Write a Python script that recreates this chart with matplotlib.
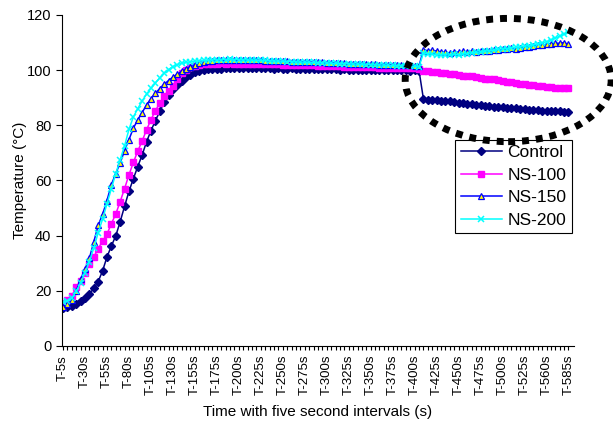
# plot.py
# temperature vs time for control and NS samples

import matplotlib
matplotlib.use("Agg")
import matplotlib.pyplot as plt
from matplotlib.patches import Ellipse

plt.rcParams['font.family'] = ['Liberation Sans', 'DejaVu Sans']

# tick labels shown on the x axis (every 5th reading)
tick_labels = ["T-5s", "T-30s", "T-55s", "T-80s", "T-105s", "T-130s", "T-155s",
               "T-175s", "T-200s", "T-225s", "T-250s", "T-275s", "T-300s",
               "T-325s", "T-350s", "T-375s", "T-400s", "T-425s", "T-450s",
               "T-475s", "T-500s", "T-525s", "T-560s", "T-585s"]

control = [13.8, 14.2, 14.6, 15.3, 16.3, 17.3, 18.9, 20.8, 23.3, 27.2,
           32.2, 36.2, 39.9, 45.0, 50.6, 56.0, 60.6, 65.0, 69.2, 74.0,
           78.0, 81.6, 85.0, 88.3, 91.0, 93.0, 94.6, 96.2, 97.5, 98.3,
           99.2, 99.8, 100.1, 100.3, 100.4, 100.5, 100.5, 100.6, 100.6, 100.6,
           100.7, 100.6, 100.7, 100.6, 100.6, 100.7, 100.6, 100.6, 100.5, 100.6,
           100.5, 100.5, 100.6, 100.5, 100.5, 100.4, 100.5, 100.4, 100.4, 100.3,
           100.4, 100.3, 100.3, 100.2, 100.3, 100.2, 100.2, 100.1, 100.2, 100.1,
           100.1, 100.0, 100.1, 100.0, 100.0, 99.9, 100.0, 99.9, 99.9, 99.8,
           99.9, 99.8,
           89.5, 89.3, 89.2, 89.0, 88.9, 88.9, 88.7, 88.5, 88.2, 88.0,
           87.8, 87.6, 87.5, 87.2, 87.0, 86.9, 86.8, 86.6, 86.5, 86.3,
           86.2, 86.1, 85.9, 85.8, 85.6, 85.5, 85.4, 85.3, 85.2, 85.1,
           85.0, 85.0, 84.9, 84.9]

ns100 = [15.5, 16.5, 18.0, 21.5, 23.5, 26.5, 29.5, 32.2, 35.3, 37.9,
         40.5, 44.3, 47.8, 52.3, 57.0, 62.0, 66.5, 70.6, 74.3, 78.3,
         82.0, 85.2, 88.0, 90.6, 92.5, 94.4, 96.7, 98.8, 100.2, 101.1,
         101.6, 102.0, 102.2, 102.3, 102.4, 102.4, 102.5, 102.4, 102.5, 102.4,
         102.4, 102.4, 102.3, 102.4, 102.3, 102.3, 102.2, 102.2, 102.1, 102.1,
         102.0, 102.0, 101.9, 101.9, 101.8, 101.8, 101.7, 101.7, 101.6, 101.6,
         101.5, 101.5, 101.4, 101.4, 101.3, 101.3, 101.2, 101.2, 101.1, 101.1,
         101.0, 101.0, 100.9, 100.9, 100.8, 100.8, 100.8, 100.7, 100.7, 100.6,
         100.6, 100.5,
         99.8, 99.6, 99.4, 99.2, 99.0, 98.9, 98.7, 98.5, 98.3, 98.0,
         97.8, 97.7, 97.4, 97.2, 96.9, 96.7, 96.6, 96.3, 96.0, 95.8,
         95.6, 95.3, 95.1, 94.9, 94.7, 94.6, 94.4, 94.2, 93.9, 93.7,
         93.6, 93.6, 93.5, 93.6]

ns150 = [14.2, 15.0, 16.5, 20.0, 24.2, 27.8, 31.8, 37.7, 43.7, 47.7,
         52.7, 58.5, 62.5, 66.3, 70.8, 74.8, 78.9, 82.0, 84.6, 87.4,
         89.6, 91.6, 93.3, 94.9, 96.2, 97.5, 98.5, 99.5, 100.4, 101.3,
         102.0, 102.6, 103.1, 103.3, 103.4, 103.5, 103.5, 103.6, 103.6, 103.6,
         103.7, 103.6, 103.6, 103.5, 103.6, 103.5, 103.4, 103.4, 103.3, 103.3,
         103.2, 103.2, 103.1, 103.1, 103.0, 103.0, 102.9, 102.9, 102.8, 102.8,
         102.7, 102.7, 102.6, 102.6, 102.5, 102.4, 102.4, 102.3, 102.3, 102.2,
         102.2, 102.1, 102.0, 102.0, 101.9, 101.9, 101.8, 101.8, 101.7, 101.7,
         101.6, 101.6,
         107.4, 107.0, 107.2, 106.9, 106.6, 106.4, 106.3, 106.6, 106.5, 106.8,
         106.6, 106.9, 106.7, 106.9, 107.0, 107.1, 107.3, 107.2, 107.5, 107.6,
         107.9, 107.8, 108.1, 108.3, 108.5, 108.8, 109.1, 109.0, 109.3, 109.6,
         109.8, 109.7, 110.0, 109.3]

ns200 = [16.0, 16.3, 17.3, 19.8, 22.8, 26.5, 30.5, 35.5, 41.0, 46.0,
         51.5, 57.0, 62.5, 67.5, 72.5, 78.5, 83.0, 86.0, 88.8, 91.3,
         93.4, 95.3, 97.2, 98.8, 100.2, 101.3, 102.0, 102.5, 102.8, 103.0,
         103.2, 103.4, 103.5, 103.6, 103.7, 103.7, 103.8, 103.8, 103.9, 103.8,
         103.8, 103.7, 103.7, 103.6, 103.6, 103.5, 103.5, 103.4, 103.3, 103.3,
         103.2, 103.1, 103.1, 103.0, 102.9, 102.9, 102.8, 102.8, 102.7, 102.6,
         102.6, 102.5, 102.5, 102.4, 102.3, 102.3, 102.2, 102.2, 102.1, 102.0,
         102.0, 101.9, 101.9, 101.8, 101.7, 101.7, 101.6, 101.6, 101.5, 101.4,
         101.4, 101.3,
         106.2, 106.0, 105.8, 105.6, 105.5, 105.6, 105.4, 105.7, 105.6, 105.9,
         106.0, 106.3, 106.4, 106.7, 106.9, 107.1, 107.2, 107.5, 107.8, 107.8,
         108.1, 108.3, 108.4, 108.7, 108.9, 109.1, 109.6, 109.9, 110.3, 110.9,
         111.6, 112.3, 113.0, 113.8]

x = list(range(len(control)))

fig = plt.figure(figsize=(6.13, 4.28), dpi=100)
ax = fig.add_axes([0.101, 0.192, 0.835, 0.773])

ax.plot(x, control, color="#000080", marker="D", markersize=3.6, linewidth=1.1, label="Control")
ax.plot(x, ns100, color="#FF00FF", marker="s", markersize=4, linewidth=1.1, label="NS-100")
ax.plot(x, ns150, color="#0000FF", marker="^", markersize=4.6, markerfacecolor="#FFFF00",
        markeredgecolor="#0000FF", markeredgewidth=0.9, linewidth=1.1, label="NS-150")
ax.plot(x, ns200, color="#00FFFF", marker="x", markersize=4.4, markeredgewidth=1.1, linewidth=1.1, label="NS-200")

ax.set_ylim(0, 120)
ax.set_yticks(range(0, 121, 20))
ax.set_xlim(-0.25, 116.2)
ax.set_xticks(range(0, len(x), 5))
ax.set_xticklabels(tick_labels, rotation=90, fontsize=9.5)
ax.set_xticks(x, minor=True)
ax.tick_params(axis="x", which="both", direction="out", length=3, width=0.8)
ax.tick_params(axis="y", direction="out", length=4, width=0.8, labelsize=10.5)

for s in ["top", "right"]:
    ax.spines[s].set_visible(False)

ax.set_ylabel("Temperature (°C)", fontsize=11, labelpad=0)
ax.set_xlabel("Time with five second intervals (s)", fontsize=11, labelpad=7)

leg = ax.legend(loc="upper right", bbox_to_anchor=(0.996, 0.622), fontsize=12.5,
                fancybox=False, framealpha=1, edgecolor="black", borderpad=0.3,
                handlelength=2.4, handletextpad=0.3, labelspacing=0.42, borderaxespad=0)
leg.get_frame().set_linewidth(0.8)

# dotted ellipse highlighting the end of the run
ell = Ellipse((0.829, 0.813), 0.336, 0.288, transform=fig.transFigure, fill=False,
              edgecolor="black", linewidth=5, linestyle=(0, (1, 1.0)), clip_on=False)
fig.patches.append(ell)

plt.savefig("out.png")
